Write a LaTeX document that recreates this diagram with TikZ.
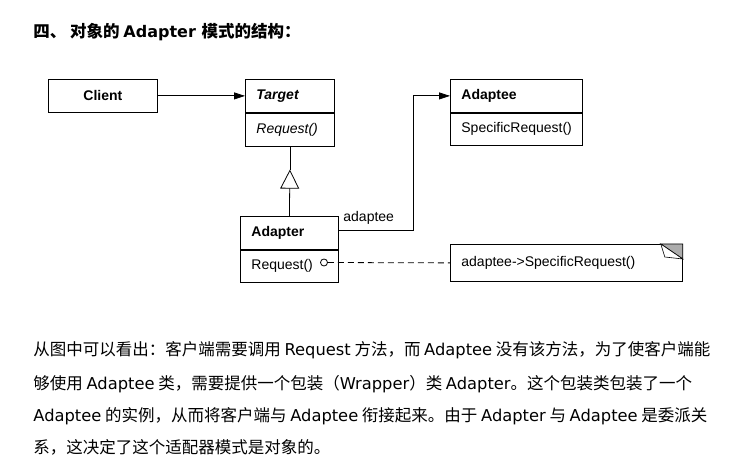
\documentclass[tikz,border=0pt]{standalone}
\usepackage{fontspec}
\setmainfont{Liberation Sans}
\newfontfamily\cjk{Noto Sans CJK SC}
\newfontfamily\lat{DejaVu Sans}
\usetikzlibrary{positioning,arrows.meta}
\newcommand\en[1]{{\lat\fontsize{16.3bp}{18bp}\selectfont #1}}
\tikzset{
  uml/.style={draw, inner xsep=11bp, inner ysep=0pt, minimum height=33bp, align=left, anchor=north west,
    font=\fontsize{14bp}{16bp}\selectfont},
  clsname/.style={uml, font=\fontsize{14bp}{16bp}\selectfont\bfseries},
  para/.style={anchor=base west, inner sep=0pt, font=\cjk\fontsize{16.5bp}{20bp}\selectfont},
  tip/.style={-{Triangle[length=11bp,width=7bp]}}
}
\begin{document}
\begin{tikzpicture}[x=1bp, y=-1bp, line width=0.8bp]
\useasboundingbox (0,0) rectangle (747,466);
\node[para, font=\cjk\fontsize{16.5bp}{20bp}\selectfont\bfseries] (head) at (33,38)
  {四、 对象的 {\lat\fontsize{16bp}{20bp}\selectfont\bfseries Adapter }模式的结构：};
\node[clsname, text width=87bp, align=center] (client) at (48,79) {Client};
\node[clsname, text width=67bp, font=\fontsize{14bp}{16bp}\selectfont\bfseries\itshape] (target) at (245,79) {Target};
\node[uml, below=0pt of target, text width=67bp, font=\fontsize{14bp}{16bp}\selectfont\itshape] (request) {Request()};
\node[clsname, text width=110bp] (adaptee) at (450,79) {Adaptee};
\node[uml, below=0pt of adaptee, text width=110bp, minimum height=32bp] (specific) {SpecificRequest()};
\node[clsname, text width=76bp] (adapter) at (240,216) {Adapter};
\node[uml, below=0pt of adapter, text width=76bp, minimum height=32bp] (adapterop) {Request()};
\node[uml, text width=210bp, minimum height=37bp] (note) at (450,244) {adaptee->SpecificRequest()};
\node[circle, draw, inner sep=0pt, minimum size=7bp] (knob) at (324,262.5) {};
\coordinate (apex) at ([yshift=-23bp]request.south);
\draw[tip] (client) -- (target);
\draw (request.south) -- (apex);
\draw[-{Triangle[open,length=19bp,width=19bp]}] (adapter.north) -- (apex);
\draw[tip] ([yshift=2.5bp]adapter.east) -- ++(75,0) |- (adaptee.west);
\node[anchor=base west, inner sep=0pt, font=\fontsize{14bp}{16bp}\selectfont] (role) at (343,222) {adaptee};
\draw[dash pattern=on 6bp off 4bp] (knob) -- (note.west);
\filldraw[fill=gray!65] ([xshift=-22bp]note.north east) -- (note.north east) -- ([yshift=-15bp]note.north east) -- cycle;
\filldraw[fill=white, line width=0.6bp] ([xshift=-22bp]note.north east) -- ([xshift=-18bp,yshift=-13bp]note.north east)
  -- ([yshift=-15bp]note.north east) -- cycle;
\node[para] (p1) at (33,356) {从图中可以看出：客户端需要调用 \en{Request} 方法，而 \en{Adaptee} 没有该方法，为了使客户端能};
\node[para] (p2) at (33,389) {够使用 \en{Adaptee} 类，需要提供一个包装（\en{Wrapper}）类 \en{Adapter}。这个包装类包装了一个};
\node[para] (p3) at (33,421) {\en{Adaptee} 的实例，从而将客户端与 \en{Adaptee} 衔接起来。由于 \en{Adapter} 与 \en{Adaptee} 是委派关};
\node[para] (p4) at (33,453) {系，这决定了这个适配器模式是对象的。};
\end{tikzpicture}
\end{document}
